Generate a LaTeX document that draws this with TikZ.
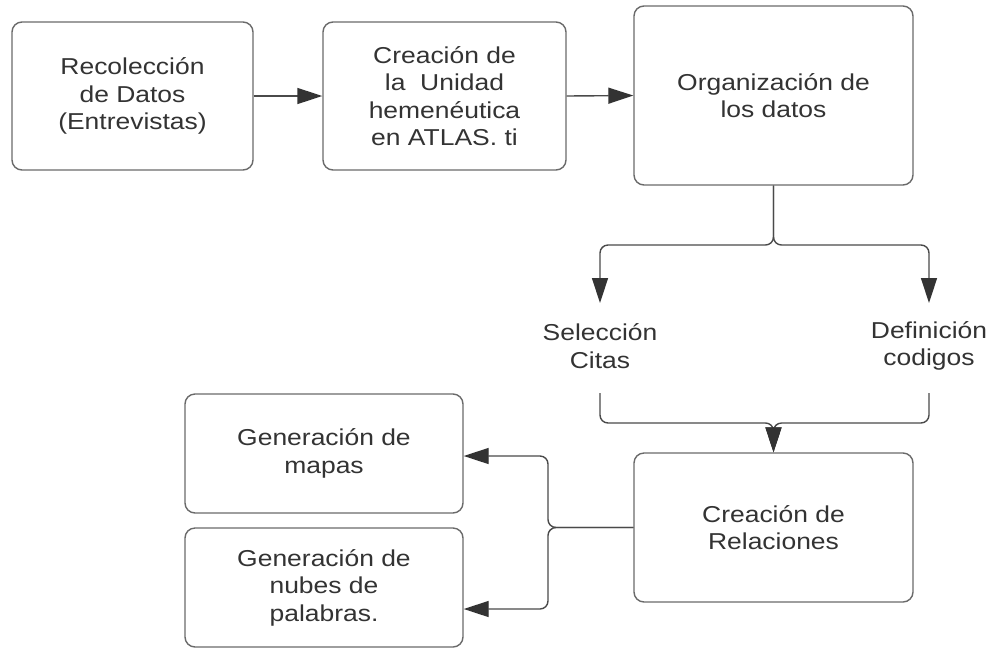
\documentclass[tikz,border=0pt]{standalone}
\usepackage{fontspec}
\setmainfont{Liberation Sans}[FakeStretch=1.15]
\usetikzlibrary{arrows.meta}
\definecolor{txt}{HTML}{333333}
\definecolor{brd}{HTML}{6A6A6A}
\definecolor{ln}{HTML}{4A4A4A}
\tikzset{
  box/.style={draw=brd, line width=1.4pt, rounded corners=10pt, fill=white,
    align=center, inner sep=0pt, text=txt,
    font=\fontsize{23}{27.5}\selectfont},
  lbl/.style={align=center, inner sep=0pt, text=txt,
    font=\fontsize{23}{27.5}\selectfont},
  conn/.style={draw=ln, line width=1.4pt, rounded corners=8pt,
    -{Triangle[length=25pt,width=16pt,fill=txt,color=txt]}},
  plain/.style={draw=ln, line width=1.4pt, rounded corners=8pt}
}
\begin{document}
\begin{tikzpicture}[x=1pt,y=-1pt]
\useasboundingbox (0,0) rectangle (990,649);
\clip (0,0) rectangle (990,649);
\fill[white] (0,0) rectangle (990,649);

\node[box, minimum width=241pt, minimum height=148pt] (b1) at (132.5,96)
  {Recolección\\de Datos\\(Entrevistas)};
\node[box, minimum width=243pt, minimum height=148pt] (b2) at (444.5,96)
  {Creación de\\la\ \ Unidad\\hemenéutica\\en ATLAS. ti};
\node[box, minimum width=279pt, minimum height=179pt] (b3) at (773.5,95.5)
  {Organización de\\los datos};
\node[box, minimum width=279pt, minimum height=149pt] (b4) at (773.5,527.5)
  {Creación de\\Relaciones};
\node[box, minimum width=278pt, minimum height=119pt] (b5) at (324,453.5)
  {Generación de\\mapas};
\node[box, minimum width=278pt, minimum height=119pt] (b6) at (324,587.5)
  {Generación de\\nubes de\\palabras.};

\node[lbl] (sel) at (600,346) {Selección\\Citas};
\node[lbl] (def) at (929,346) {Definición\\codigos};

\coordinate (selTop) at (600,303);
\coordinate (defTop) at (929,303);
\coordinate (selBot) at (600,393);
\coordinate (defBot) at (929,393);

\draw[conn] (b1.east) -- (b2.west);
\draw[conn] (b2.east) -- (b3.west);

\draw[conn] (b3.south) -- (773.5,245) -- (600,245) -- (selTop);
\draw[conn] (b3.south) -- (773.5,245) -- (929,245) -- (defTop);

\draw[conn] (selBot) -- (600,423) -- (773.5,423) -- (b4.north);
\draw[conn] (defBot) -- (929,423) -- (773.5,423) -- (b4.north);

\draw[conn] (b4.west) -- (548,527.5) -- (548,456) -- (b5.east |- 0,456);
\draw[conn] (b4.west) -- (548,527.5) -- (548,609) -- (b6.east |- 0,609);
\end{tikzpicture}
\end{document}
